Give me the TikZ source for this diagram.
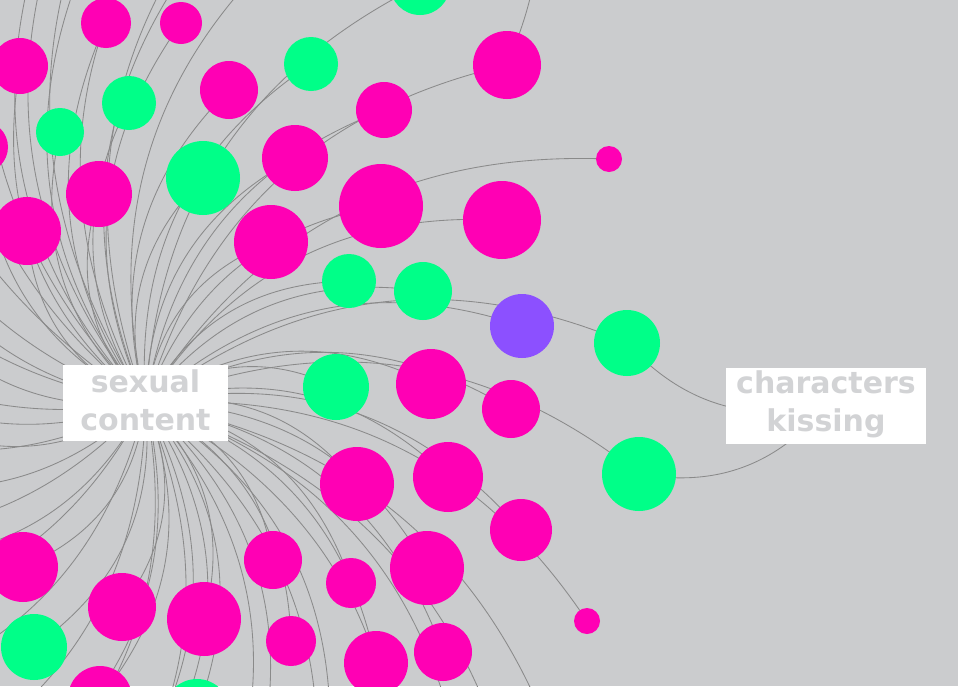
\documentclass[tikz,border=0pt]{standalone}
\usepackage{fontspec}
\newfontfamily\labfont{DejaVu Sans}
\definecolor{bgC}{HTML}{CBCCCE}
\definecolor{magC}{HTML}{FF00B4}
\definecolor{grnC}{HTML}{00FF88}
\definecolor{purC}{HTML}{8C50FF}
\definecolor{lnkC}{HTML}{8A8A8A}
\definecolor{txtC}{HTML}{D2D3D5}
\pgfdeclarelayer{bg}
\pgfdeclarelayer{links}
\pgfsetlayers{bg,links,main}
\tikzset{
  bub/.style={circle, inner sep=0pt, outer sep=0pt, draw=none, minimum size={2*#1}},
  lnk/.style={draw=lnkC, line width=0.85pt},
  labbox/.style={fill=white, draw=none, inner sep=0pt},
  labtext/.style={text=txtC, font=\labfont\bfseries\fontsize{30}{38}\selectfont, align=center, inner sep=0pt}
}
\begin{document}
\begin{tikzpicture}[x=1pt,y=1pt]
\useasboundingbox (0,0) rectangle (958,-686);
\begin{pgfonlayer}{bg}
  \fill[bgC] (0,0) rectangle (958,-686);
\end{pgfonlayer}
\coordinate (hub) at (145.5,-403);
\coordinate (ckc) at (826,-406);
% circles
\foreach \n/\x/\y/\r/\c in {
  M1/106/23/25/magC, M2/181/23/21/magC, M3/20/66/28/magC, M4/507/65/34/magC,
  M5/229/90/29/magC, M6/384/110/28/magC, M7/-18/147/26/magC, M8/295/158/33/magC,
  M9/381/206/42/magC, M10/502/220/39/magC, M11/99/194/33/magC, M12/27/231/34/magC,
  M13/271/242/37/magC, M14/431/384/35/magC, M15/511/409/29/magC, M16/357/484/37/magC,
  M17/448/477/35/magC, M18/521/530/31/magC, M19/23/567/35/magC, M20/273/560/29/magC,
  M21/351/583/25/magC, M22/427/568/37/magC, M23/122/607/34/magC, M24/204/619/37/magC,
  M25/291/641/25/magC, M26/376/663/32/magC, M27/443/652/29/magC, M28/100/698/32/magC,
  S1/609/159/13/magC, S2/587/621/13/magC,
  G1/420/-15/30/grnC, G2/311/64/27/grnC, G3/129/103/27/grnC, G4/60/132/24/grnC,
  G5/203/178/37/grnC, G6/349/281/27/grnC, G7/423/291/29/grnC, G8/336/387/33/grnC,
  G9/34/647/33/grnC, G10/197/712/33/grnC, G11/627/343/33/grnC, G12/639/474/37/grnC,
  P/522/326/32/purC}
  {\node[bub=\r, fill=\c] (\n) at (\x,-\y) {};}
% links
\begin{pgfonlayer}{links}
  \foreach \n in {M1,M2,M3,M4,M5,M6,M7,M8,M9,M10,M11,M12,M13,M14,M15,M16,M17,M18,
    M19,M20,M21,M22,M23,M24,M25,M26,M27,M28,S1,S2,
    G1,G2,G3,G4,G5,G6,G7,G8,G9,G10,G11,G12,P}
    {\draw[lnk] (hub) to[bend left=30] (\n.center);}
  \foreach \x/\y [count=\i] in {
    -120/-120, -40/-80, 10/-140, 40/-60, 70/-110, 85/-40, 120/-160, 160/-90,
    200/-50, 235/-120, 290/-60,
    -150/40, -200/120, -120/180, -250/250, -100/290, -180/340, -220/390,
    -90/420, -160/470, -240/520, -110/560, -200/620, -140/700,
    -80/780, 0/820, 40/760, 90/850, 130/780, 170/740, 230/800, 260/760,
    310/830, 330/740, 400/800, 460/760, 520/820, 560/760}
    {\coordinate (o\i) at (\x,-\y); \draw[lnk] (hub) to[bend left=30] (o\i);}
  \coordinate (otop) at (540,60);
  \draw[lnk] (M4.center) to[bend right=8] (otop);
  \draw[lnk] (ckc) to[bend left=30] (G11.center);
  \draw[lnk] (ckc) to[bend left=30] (G12.center);
\end{pgfonlayer}
% labels
\node[labbox, minimum width=165pt, minimum height=76pt] (scbox) at (hub) {};
\node[labtext] (sc) at (145.5,-400) {sexual\\content};
\node[labbox, minimum width=200pt, minimum height=76pt] (ckbox) at (ckc) {};
\node[labtext] (ck) at (826,-404) {characters\\kissing};
\end{tikzpicture}
\end{document}
